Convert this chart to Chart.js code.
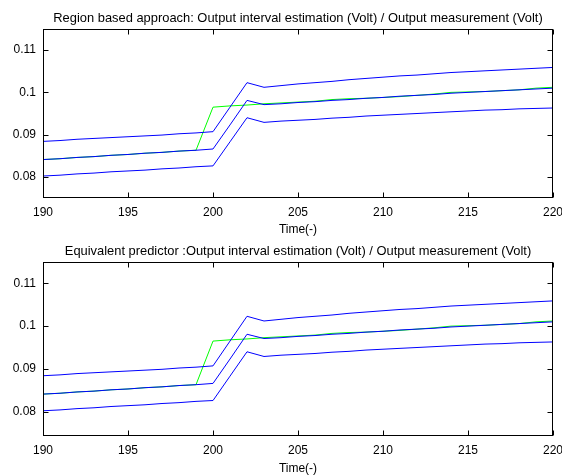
<!DOCTYPE html>
<html>
<head>
<meta charset="utf-8">
<script src="https://cdn.jsdelivr.net/npm/chart.js@4/dist/chart.umd.min.js"></script>
<style>
  html, body { margin: 0; padding: 0; background: #fff; width: 562px; height: 476px; overflow: hidden; }
  canvas { position: absolute; left: 0; }
  #top { top: 0; width: 562px; height: 237px; }
  #bottom { top: 237px; width: 562px; height: 239px; }
</style>
</head>
<body>
<canvas id="top" width="562" height="237"></canvas>
<canvas id="bottom" width="562" height="239"></canvas>
<script>
// Time samples
const time = [190, 191, 192, 193, 194, 195, 196, 197, 198, 199, 200,
              201, 202, 203, 204, 205, 206, 207, 208, 209, 210,
              211, 212, 213, 214, 215, 216, 217, 218, 219, 220];

// Measured output (Volt)
const measured = [0.0841, 0.0843, 0.0846, 0.0848, 0.0851, 0.0853, 0.0856, 0.0858, 0.0861, 0.0863, 0.0965,
                  0.0968, 0.0970, 0.0973, 0.0975, 0.0977, 0.0979, 0.0983, 0.0985, 0.0986, 0.0988,
                  0.0990, 0.0993, 0.0996, 0.1000, 0.1001, 0.1002, 0.1004, 0.1006, 0.1010, 0.1012];

// Estimated output, centre of the interval (Volt)
const estimate = [0.0841, 0.0843, 0.0846, 0.0848, 0.0851, 0.0853, 0.0856, 0.0858, 0.0861, 0.0863, 0.0866,
                  0.0923, 0.0981, 0.0971, 0.0973, 0.0976, 0.0978, 0.0981, 0.0983, 0.0986, 0.0988,
                  0.0991, 0.0993, 0.0995, 0.0998, 0.1000, 0.1002, 0.1004, 0.1006, 0.1008, 0.1010];

// Upper bound of the interval (Volt)
const upper = [0.0884, 0.0886, 0.0889, 0.0891, 0.0893, 0.0895, 0.0897, 0.0899, 0.0902, 0.0904, 0.0907,
               0.0965, 0.1023, 0.1012, 0.1016, 0.1020, 0.1023, 0.1026, 0.1030, 0.1033, 0.1036,
               0.1039, 0.1041, 0.1044, 0.1047, 0.1049, 0.1051, 0.1053, 0.1055, 0.1057, 0.1059];

// Lower bound of the interval (Volt)
const lower = [0.0802, 0.0804, 0.0807, 0.0809, 0.0812, 0.0814, 0.0816, 0.0819, 0.0821, 0.0824, 0.0826,
               0.0883, 0.0940, 0.0929, 0.0932, 0.0934, 0.0936, 0.0939, 0.0941, 0.0944, 0.0946,
               0.0948, 0.0950, 0.0952, 0.0954, 0.0956, 0.0958, 0.0959, 0.0961, 0.0962, 0.0963];

// Axis ticks
const xTicks = [190, 195, 200, 205, 210, 215, 220];
const yTicks = [0.08, 0.09, 0.1, 0.11];
const yTickLabels = ['0.08', '0.09', '0.1', '0.11'];

const titleTop = 'Region based approach: Output interval estimation (Volt) / Output measurement (Volt)';
const titleBottom = 'Equivalent predictor :Output interval estimation (Volt) / Output measurement (Volt)';
const xTitle = 'Time(-)';

const FONT_FAMILY = '"Liberation Sans", Arial, Helvetica, sans-serif';
const tickFont = { family: FONT_FAMILY, size: 12 };

// Axes box with inward tick marks on all four sides, plus the panel title
const framePlugin = {
  id: 'frame',
  afterDraw(chart, args, opts) {
    const { ctx, chartArea: a, scales: { x, y } } = chart;
    const L = Math.round(a.left) + 0.5;
    const R = Math.round(a.right) - 0.5;
    const T = Math.round(a.top) + 0.5;
    const B = Math.round(a.bottom) - 0.5;
    const len = 5;
    ctx.save();
    ctx.strokeStyle = '#000';
    ctx.lineWidth = 1;
    ctx.strokeRect(L, T, R - L, B - T);
    ctx.beginPath();
    x.ticks.forEach(t => {
      const px = Math.round(x.getPixelForValue(t.value)) + 0.5;
      ctx.moveTo(px, B); ctx.lineTo(px, B - len);
      ctx.moveTo(px, T); ctx.lineTo(px, T + len);
    });
    y.ticks.forEach(t => {
      const py = Math.round(y.getPixelForValue(t.value)) + 0.5;
      ctx.moveTo(L, py); ctx.lineTo(L + len, py);
      ctx.moveTo(R, py); ctx.lineTo(R - len, py);
    });
    ctx.stroke();

    ctx.fillStyle = '#000';
    ctx.font = opts.fontSize + 'px ' + FONT_FAMILY;
    ctx.textAlign = 'center';
    ctx.textBaseline = 'alphabetic';
    ctx.fillText(opts.text, (a.left + a.right) / 2, a.top - 7);
    ctx.restore();
  }
};

function series(values) {
  return values.map((v, i) => ({ x: time[i], y: v }));
}

function makePanel(canvasId, title, areaTop, xAxisHeight, yMin, yMax) {
  return new Chart(document.getElementById(canvasId), {
    type: 'line',
    data: {
      datasets: [
        { label: 'upper', data: series(upper), borderColor: '#0000ff' },
        { label: 'estimate', data: series(estimate), borderColor: '#0000ff' },
        { label: 'lower', data: series(lower), borderColor: '#0000ff' },
        { label: 'measured', data: series(measured), borderColor: '#00ff00' }
      ]
    },
    options: {
      responsive: false,
      animation: false,
      devicePixelRatio: 1,
      layout: { autoPadding: false, padding: { left: 0, right: 9, top: areaTop, bottom: 0 } },
      elements: {
        point: { radius: 0, hoverRadius: 0 },
        line: { borderWidth: 1, tension: 0, fill: false }
      },
      plugins: {
        legend: { display: false },
        tooltip: { enabled: false },
        frame: { text: title, fontSize: 12.9 }
      },
      scales: {
        x: {
          type: 'linear',
          min: 190,
          max: 220,
          grid: { display: false, drawTicks: false, tickLength: 0 },
          border: { display: false },
          afterBuildTicks: s => { s.ticks = xTicks.map(v => ({ value: v })); },
          afterFit: s => { s.height = xAxisHeight; s.paddingLeft = 0; s.paddingRight = 0; },
          ticks: {
            color: '#000', font: tickFont, padding: 7, maxRotation: 0, autoSkip: false,
            callback: v => String(v)
          },
          title: {
            display: true, text: xTitle, color: '#000', font: tickFont,
            padding: { top: 0, bottom: 0 }
          }
        },
        y: {
          type: 'linear',
          min: yMin,
          max: yMax,
          grid: { display: false, drawTicks: false, tickLength: 0 },
          border: { display: false },
          afterBuildTicks: s => { s.ticks = yTicks.map(v => ({ value: v })); },
          afterFit: s => { s.width = 43; s.paddingTop = 0; s.paddingBottom = 0; },
          ticks: {
            color: '#000', font: tickFont, padding: 7,
            callback: v => yTickLabels[yTicks.indexOf(v)]
          }
        }
      }
    },
    plugins: [framePlugin]
  });
}

makePanel('top', titleTop, 29, 39, 0.075, 0.115);
makePanel('bottom', titleBottom, 25, 40, 0.0743, 0.115);
</script>
</body>
</html>
